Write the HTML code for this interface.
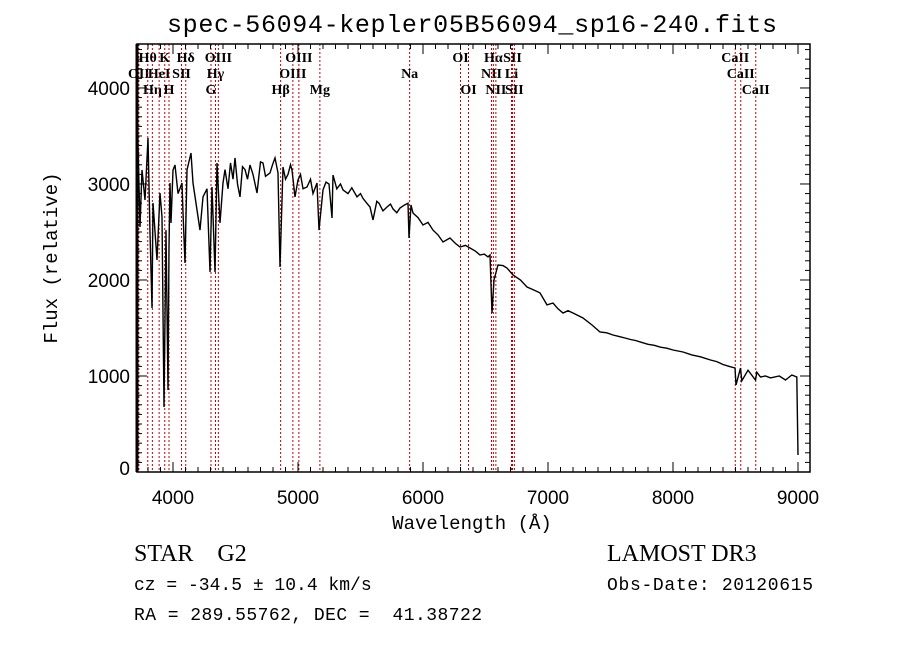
<!DOCTYPE html>
<html><head><meta charset="utf-8"><style>
html,body{margin:0;padding:0;background:#fff;}
svg{display:block;}
text{white-space:pre;}
</style></head><body>
<svg id="chart" width="900" height="649" xmlns="http://www.w3.org/2000/svg">
<rect width="900" height="649" fill="#fff"/>
<text x="472" y="32" font-family="Liberation Mono, monospace" font-size="25" text-anchor="middle" textLength="610">spec-56094-kepler05B56094_sp16-240.fits</text>
<g id="lines"></g>
<g id="spec"></g>
<g id="axes"></g>
<text x="472" y="529" font-family="Liberation Mono, monospace" font-size="19" text-anchor="middle">Wavelength (Å)</text>
<text transform="translate(57,258) rotate(-90)" font-family="Liberation Mono, monospace" font-size="19" text-anchor="middle">Flux (relative)</text>
<text x="134" y="561" font-family="Liberation Serif, serif" font-size="24" xml:space="preserve">STAR    G2</text>
<text x="134" y="590" font-family="Liberation Mono, monospace" font-size="18">cz = -34.5 ± 10.4 km/s</text>
<text x="134" y="620" font-family="Liberation Mono, monospace" font-size="18" xml:space="preserve" textLength="348">RA = 289.55762, DEC =  41.38722</text>
<text x="607" y="561" font-family="Liberation Serif, serif" font-size="24">LAMOST DR3</text>
<text x="607" y="590" font-family="Liberation Mono, monospace" font-size="18" textLength="206">Obs-Date: 20120615</text>
</svg>
<script>
const wavelengths=[3712,3720,3736,3752,3776,3800,3816,3832,3840,3872,3896,3912,3928,3944,3960,3968,3976,3984,4000,4016,4040,4072,4080,4096,4112,4144,4160,4216,4240,4272,4296,4312,4336,4352,4376,4400,4416,4440,4460,4480,4496,4516,4536,4556,4576,4596,4616,4640,4672,4700,4720,4740,4776,4796,4816,4840,4856,4880,4900,4920,4940,4952,4976,5000,5020,5040,5072,5100,5120,5152,5168,5200,5224,5248,5272,5280,5310,5340,5360,5400,5430,5472,5500,5520,5550,5576,5600,5630,5648,5680,5712,5740,5760,5790,5816,5850,5880,5888,5904,5920,5960,6000,6040,6080,6120,6160,6216,6260,6296,6340,6376,6420,6456,6490,6520,6536,6552,6568,6600,6640,6672,6720,6780,6832,6880,6936,6992,7040,7080,7120,7160,7200,7240,7280,7352,7416,7470,7520,7570,7616,7660,7700,7750,7800,7850,7900,7950,8000,8080,8150,8220,8300,8350,8400,8450,8496,8504,8540,8550,8600,8660,8670,8700,8740,8780,8850,8900,8950,8990,9000];
const fluxes=[4187,3427,2552,3146,2833,3479,2490,1708,2802,2208,2906,2656,677,2520,854,2344,3010,2594,3146,3198,2900,3010,2700,2177,3146,3323,3010,2520,2865,2950,2083,2969,2083,3219,2594,3010,3150,2950,3220,3050,3271,3000,2865,3180,3150,3050,3198,3100,2906,3230,3219,3080,3115,3200,3271,3115,2135,3177,3050,3100,3200,3146,2865,3042,3100,2950,2969,3050,2900,3010,2520,2938,3020,3000,2646,3094,2950,3000,2938,2900,2960,2865,2900,2850,2800,2760,2625,2820,2800,2720,2760,2790,2740,2700,2750,2780,2800,2437,2781,2698,2650,2573,2600,2520,2470,2396,2437,2380,2344,2360,2333,2300,2260,2270,2240,2260,1656,2000,2156,2150,2125,2052,2000,1927,1900,1865,1740,1760,1700,1656,1680,1656,1630,1604,1531,1458,1450,1427,1410,1396,1380,1370,1350,1330,1320,1300,1290,1271,1250,1220,1200,1167,1150,1120,1100,1083,906,1083,950,1060,958,1040,990,1000,980,1000,958,1010,990,177];
const xTicks=[4000,5000,6000,7000,8000,9000];
const yTicks=[0,1000,2000,3000,4000];
const lineWaves=[3727,3798,3835,3889,3934,3968,4068,4102,4304,4340,4363,4861,4959,5007,5175,5893,6300,6364,6548,6563,6583,6708,6716,6731,8498,8542,8662];
const labelTexts=["OII","Hθ","Hη","HeI","K","H","SII","Hδ","G","Hγ","OIII","Hβ","OIII","OIII","Mg","Na","OI","OI","NII","Hα","NII","Li","SII","SII","CaII","CaII","CaII"];
const labelRows=[1,0,2,1,0,2,1,0,2,1,0,2,1,0,2,1,0,2,1,0,2,1,0,2,0,1,2];

const L=137,R=810,T=44,B=472,W0=3712,W1=9096,F0=0,F1=4458;
const sx=w=>L+(w-W0)/(W1-W0)*(R-L);
const sy=f=>B-(f-F0)/(F1-F0)*(B-T);
const NS='http://www.w3.org/2000/svg';
function mk(tag,attrs,parent){const e=document.createElementNS(NS,tag);for(const k in attrs)e.setAttribute(k,attrs[k]);parent.appendChild(e);return e;}

const lg=document.getElementById('lines');
lineWaves.forEach((w,i)=>{
  const l=mk('line',{x1:sx(w),x2:sx(w),y1:T,y2:B,stroke:'#c00000','stroke-width':1,'stroke-dasharray':'2,2'},lg);
  
  
  const t=mk('text',{x:sx(w),y:62+labelRows[i]*16,'font-family':'Liberation Serif, serif','font-size':14,'font-weight':'bold','text-anchor':'middle'},lg);
  t.textContent=labelTexts[i];
  
  
});

const sg=document.getElementById('spec');
const pts=wavelengths.map((w,i)=>sx(w).toFixed(1)+','+sy(fluxes[i]).toFixed(1)).join(' ');
const pl=mk('polyline',{points:pts,fill:'none',stroke:'#000','stroke-width':1.4},sg);



const ag=document.getElementById('axes');
const fr=mk('rect',{x:L,y:T,width:R-L,height:B-T,fill:'none',stroke:'#000','stroke-width':1.5},ag);


mk('line',{x1:L,x2:L,y1:T,y2:B,stroke:'#000','stroke-width':3},ag);
for(let w=3800;w<=W1;w+=100){
  const major=w%1000===0, len=major?10:5, x=sx(w);
  mk('line',{x1:x,x2:x,y1:B,y2:B-len,stroke:'#000'},ag);
  mk('line',{x1:x,x2:x,y1:T,y2:T+len,stroke:'#000'},ag);
}
for(let f=100;f<F1;f+=100){
  const major=f%1000===0, len=major?10:5, y=sy(f);
  mk('line',{x1:L,x2:L+len,y1:y,y2:y,stroke:'#000'},ag);
  mk('line',{x1:R,x2:R-len,y1:y,y2:y,stroke:'#000'},ag);
}
xTicks.forEach(v=>{
  const t=mk('text',{x:sx(v),y:504,'font-family':'Liberation Sans, sans-serif','font-size':19,'text-anchor':'middle'},ag);
  t.textContent=v;
  
  
});
yTicks.forEach(v=>{
  const t=mk('text',{x:130,y:sy(v)+7-(v===0?4:0),'font-family':'Liberation Sans, sans-serif','font-size':19,'text-anchor':'end'},ag);
  t.textContent=v;
  
  
});
</script>
</body></html>
